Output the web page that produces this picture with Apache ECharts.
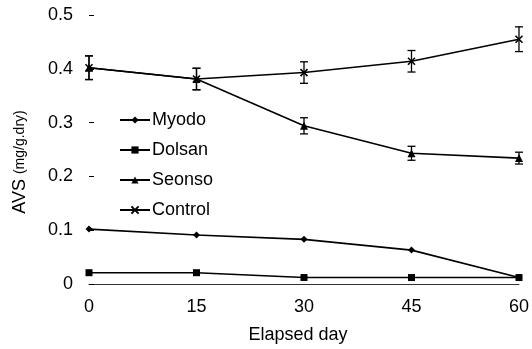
<!DOCTYPE html>
<html>
<head>
<meta charset="utf-8">
<script src="https://cdn.jsdelivr.net/npm/echarts@6/dist/echarts.min.js"></script>
<style>
html,body{margin:0;padding:0;background:#fff;}
#chart{width:532px;height:349px;}
</style>
</head>
<body>
<div id="chart"></div>
<script>
var days = [0, 15, 30, 45, 60];
var yTicks = [0, 0.1, 0.2, 0.3, 0.4, 0.5];
var myodo = [0.102, 0.091, 0.083, 0.063, 0.012];
var dolsan = [0.021, 0.021, 0.012, 0.012, 0.012];
var seonso = [0.402, 0.381, 0.294, 0.243, 0.234];
var control = [0.402, 0.381, 0.393, 0.414, 0.455];
var seonsoErr = [0.022, 0.020, 0.015, 0.013, 0.011];
var controlErr = [0.022, 0.020, 0.020, 0.020, 0.023];
var seriesNames = ['Myodo', 'Dolsan', 'Seonso', 'Control'];

var FONT = '"Liberation Sans", Arial, sans-serif';

function pairs(vals) {
  return days.map(function (d, i) { return [d, vals[i]]; });
}
function errData(vals, errs) {
  return days.map(function (d, i) { return [d, vals[i] - errs[i], vals[i] + errs[i]]; });
}
function errRender(params, api) {
  var x = api.value(0);
  var lo = api.coord([x, api.value(1)]);
  var hi = api.coord([x, api.value(2)]);
  var w = 4;
  var st = { stroke: '#000', lineWidth: 1.3 };
  return {
    type: 'group',
    children: [
      { type: 'line', shape: { x1: lo[0], y1: lo[1], x2: hi[0], y2: hi[1] }, style: st },
      { type: 'line', shape: { x1: lo[0] - w, y1: lo[1], x2: lo[0] + w, y2: lo[1] }, style: st },
      { type: 'line', shape: { x1: hi[0] - w, y1: hi[1], x2: hi[0] + w, y2: hi[1] }, style: st }
    ]
  };
}
function lineSeries(name, vals, symbol, size, extra) {
  var s = {
    name: name,
    type: 'line',
    data: pairs(vals),
    symbol: symbol,
    symbolSize: size,
    showSymbol: true,
    lineStyle: { color: '#000', width: 1.6 },
    itemStyle: { color: '#000', borderColor: '#000', borderWidth: 0 },
    z: 3
  };
  if (extra) { for (var k in extra) s[k] = extra[k]; }
  return s;
}

var chart = echarts.init(document.getElementById('chart'), null, { renderer: 'canvas' });
chart.setOption({
  animation: false,
  backgroundColor: '#fff',
  textStyle: { fontFamily: FONT, color: '#000' },
  grid: { left: 89, right: 12, top: 15, bottom: 65 },
  legend: {
    data: seriesNames,
    orient: 'vertical',
    left: 114,
    top: 106,
    itemGap: 12,
    itemWidth: 30,
    itemHeight: 9,
    textStyle: { fontFamily: FONT, fontSize: 18, color: '#000', padding: [0, 0, 0, -3] }
  },
  xAxis: {
    type: 'value',
    min: 0, max: 60, interval: 15,
    axisLine: { show: true, lineStyle: { color: '#333', width: 1 } },
    axisTick: { show: false },
    splitLine: { show: false },
    axisLabel: { fontFamily: FONT, fontSize: 18, color: '#000', margin: 14 }
  },
  yAxis: {
    type: 'value',
    min: 0, max: 0.5, interval: 0.1,
    axisLine: { show: false },
    axisTick: { show: true, inside: true, length: 5, lineStyle: { color: '#000', width: 1 } },
    splitLine: { show: false },
    axisLabel: {
      fontFamily: FONT, fontSize: 18, color: '#000', margin: 16,
      formatter: function (v) { return v === 0 ? '0' : v.toFixed(1); }
    }
  },
  graphic: [
    {
      type: 'text', x: 20, y: 162, rotation: Math.PI / 2,
      style: {
        text: 'AVS {s|(mg/g.dry)}',
        fontFamily: FONT, fontSize: 18, fill: '#000',
        align: 'center', verticalAlign: 'middle',
        rich: { s: { fontFamily: FONT, fontSize: 14, fill: '#000' } }
      }
    },
    {
      type: 'text', x: 298, y: 335,
      style: {
        text: 'Elapsed day',
        fontFamily: FONT, fontSize: 18, fill: '#000',
        align: 'center', verticalAlign: 'middle'
      }
    }
  ],
  series: [
    lineSeries('Myodo', myodo, 'diamond', 7),
    lineSeries('Dolsan', dolsan, 'rect', 7),
    lineSeries('Seonso', seonso, 'triangle', 8),
    lineSeries('Control', control, 'path://M0,0L10,10M10,0L0,10', 7, {
      itemStyle: { color: 'none', borderColor: '#000', borderWidth: 1.6 }
    }),
    {
      type: 'custom', name: 'seonsoErr', renderItem: errRender,
      data: errData(seonso, seonsoErr), encode: { x: 0, y: [1, 2] }, z: 2, silent: true
    },
    {
      type: 'custom', name: 'controlErr', renderItem: errRender,
      data: errData(control, controlErr), encode: { x: 0, y: [1, 2] }, z: 2, silent: true
    }
  ]
});
</script>
</body>
</html>
